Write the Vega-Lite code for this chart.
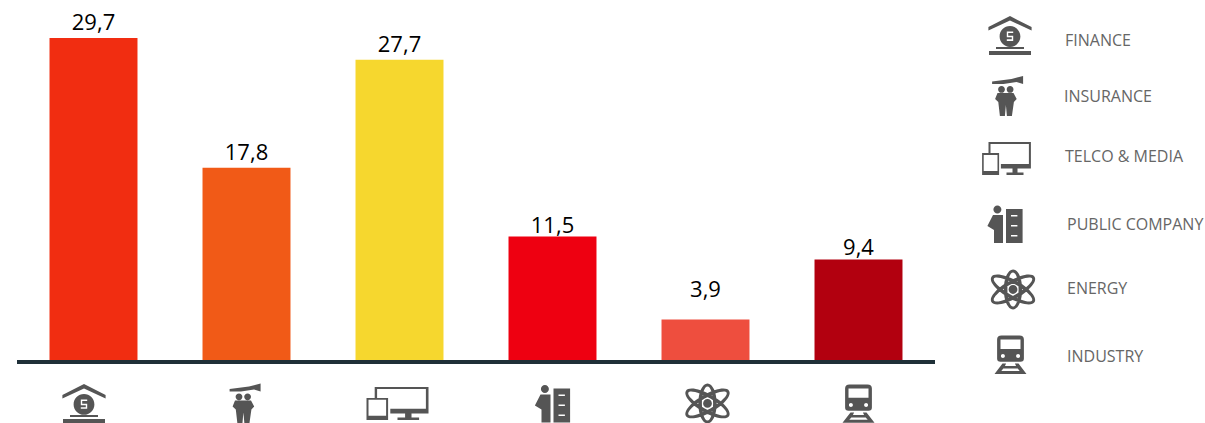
{
"$schema":"https://vega.github.io/schema/vega-lite/v6.json",
"padding":{"left":15,"top":0,"right":0,"bottom":0},
"background":"white",
"config":{"view":{"stroke":null}},
"spacing":0,
"resolve":{"scale":{"shape":"independent"}},
"data":{"values":[
{"order":1,"sector":"FINANCE","value":29.7,"label":"29,7"},
{"order":2,"sector":"INSURANCE","value":17.8,"label":"17,8"},
{"order":3,"sector":"TELCO & MEDIA","value":27.7,"label":"27,7"},
{"order":4,"sector":"PUBLIC COMPANY","value":11.5,"label":"11,5"},
{"order":5,"sector":"ENERGY","value":3.9,"label":"3,9"},
{"order":6,"sector":"INDUSTRY","value":9.4,"label":"9,4"}
]},
"hconcat":[
{"width":918,"height":423,
"encoding":{"x":{"field":"sector","type":"nominal","axis":null,"scale":{"domain":["FINANCE","INSURANCE","TELCO & MEDIA","PUBLIC COMPANY","ENERGY","INDUSTRY"],"paddingInner":0.425,"paddingOuter":0.2125}},
"y":{"field":"value","type":"quantitative","axis":null,"scale":{"domain":[-5.59,33.18],"nice":false,"zero":false}}},
"layer":[
{"mark":{"type":"bar"},"encoding":{"color":{"field":"sector","type":"nominal","legend":null,"scale":{"domain":["FINANCE","INSURANCE","TELCO & MEDIA","PUBLIC COMPANY","ENERGY","INDUSTRY"],"range":["#F12D11","#F15A17","#F6D72E","#EE0011","#EE4E3E","#B2000F"]}}}},
{"mark":{"type":"rule","color":"#1F3038","strokeWidth":4},"encoding":{"x":{"value":0},"x2":{"value":918},"y":{"datum":0}}},
{"transform":[{"filter":{"field":"sector","oneOf":["FINANCE","INSURANCE","TELCO & MEDIA"]}}],"mark":{"type":"text","font":"Open Sans","fontSize":22,"color":"#000000","dy":-15,"baseline":"middle"},"encoding":{"text":{"field":"label"}}},
{"transform":[{"filter":{"field":"sector","oneOf":["PUBLIC COMPANY","INDUSTRY"]}}],"mark":{"type":"text","font":"Open Sans","fontSize":22,"color":"#000000","dy":-11,"baseline":"middle"},"encoding":{"text":{"field":"label"}}},
{"transform":[{"filter":{"field":"sector","equal":"ENERGY"}}],"mark":{"type":"text","font":"Open Sans","fontSize":22,"color":"#000000","dy":-29,"baseline":"middle"},"encoding":{"text":{"field":"label"}}},
{"mark":{"type":"point","filled":true,"size":1600,"color":"#555555","opacity":1,"strokeWidth":0},
"encoding":{"x":{"field":"order","type":"quantitative","axis":null,"scale":{"domain":[1,2,3,4,5,6],"range":[67,228,380.5,535.5,690.5,841.5]}},
"y":{"datum":-3.8},
"shape":{"field":"sector","type":"nominal","legend":null,"scale":{"domain":["FINANCE","INSURANCE","TELCO & MEDIA","PUBLIC COMPANY","ENERGY","INDUSTRY"],"range":[
"M -1.08 -0.42 L 0 -0.97 L 1.08 -0.42 L 1.08 -0.25 L 0 -0.75 L -1.08 -0.25 Z M -0.52 0.05 A 0.52 0.52 0 1 1 0.52 0.05 A 0.52 0.52 0 1 1 -0.52 0.05 Z M 0.16 -0.2 L -0.16 -0.2 L -0.16 0.09 L 0.09 0.09 L 0.09 0.19 L -0.16 0.19 L -0.16 0.27 L 0.16 0.27 L 0.16 0.01 L -0.09 0.01 L -0.09 -0.12 L 0.16 -0.12 Z M -0.7 0.58 L 0.7 0.58 L 0.7 0.68 L -0.7 0.68 Z M -1.05 0.78 L 1.05 0.78 L 1.05 0.98 L -1.05 0.98 Z",
"M -0.77 -0.72 L 0.2 -0.85 L 0.78 -1 L 0.78 -0.6 L 0.45 -0.7 L -0.2 -0.6 L -0.77 -0.6 Z M -0.47 -0.33 A 0.17 0.17 0 1 1 -0.13 -0.33 A 0.17 0.17 0 1 1 -0.47 -0.33 Z M -0.04 -0.33 A 0.17 0.17 0 1 1 0.3 -0.33 A 0.17 0.17 0 1 1 -0.04 -0.33 Z M -0.5 -0.15 L 0.3 -0.15 L 0.46 0.15 L 0.32 0.3 L 0.22 1 L -0.03 1 L -0.08 0.45 L -0.13 1 L -0.38 1 L -0.46 0.3 L -0.62 0.15 Z",
"M -1.14 -0.82 L 1.55 -0.82 L 1.55 0.5 L -0.36 0.5 L -0.36 0.27 L 1.42 0.27 L 1.42 -0.72 L -1.02 -0.72 L -1.02 -0.27 L -1.14 -0.27 Z M 0.38 0.5 L 0.7 0.5 L 0.7 0.7 L 1.08 0.7 L 1.08 0.83 L 0 0.83 L 0 0.7 L 0.38 0.7 Z M -1.55 -0.27 L -0.47 -0.27 L -0.47 0.83 L -1.55 0.83 Z M -1.45 -0.18 L -1.45 0.62 L -0.57 0.62 L -0.57 -0.18 Z",
"M 0.05 -0.75 L 0.88 -0.75 L 0.88 0.95 L 0.05 0.95 Z M 0.3 -0.45 L 0.3 -0.37 L 0.62 -0.37 L 0.62 -0.45 Z M 0.3 0.05 L 0.3 0.13 L 0.62 0.13 L 0.62 0.05 Z M 0.3 0.55 L 0.3 0.63 L 0.62 0.63 L 0.62 0.55 Z M -0.58 -0.72 A 0.2 0.2 0 1 1 -0.18 -0.72 A 0.2 0.2 0 1 1 -0.58 -0.72 Z M -0.6 -0.45 L -0.1 -0.45 L -0.1 0.95 L -0.55 0.95 L -0.55 0.3 L -0.88 0.1 Z",
"M 0 -1 A 1 0.46 90 1 1 0 1 A 1 0.46 90 1 1 0 -1 Z M 0 -0.85 A 0.85 0.28 90 1 0 0 0.85 A 0.85 0.28 90 1 0 0 -0.85 Z M -1.0825 -0.625 A 1.25 0.46 30 1 1 1.0825 0.625 A 1.25 0.46 30 1 1 -1.0825 -0.625 Z M -0.9526 -0.55 A 1.1 0.28 30 1 0 0.9526 0.55 A 1.1 0.28 30 1 0 -0.9526 -0.55 Z M -1.0825 0.625 A 1.25 0.46 -30 1 1 1.0825 -0.625 A 1.25 0.46 -30 1 1 -1.0825 0.625 Z M -0.9526 0.55 A 1.1 0.28 -30 1 0 0.9526 -0.55 A 1.1 0.28 -30 1 0 -0.9526 0.55 Z M -0.22 0 A 0.22 0.22 0 1 1 0.22 0 A 0.22 0.22 0 1 1 -0.22 0 Z",
"M -0.67 -0.75 Q -0.67 -0.95 -0.45 -0.95 L 0.45 -0.95 Q 0.67 -0.95 0.67 -0.75 L 0.67 0.2 Q 0.67 0.36 0.5 0.36 L -0.5 0.36 Q -0.67 0.36 -0.67 0.2 Z M -0.5 -0.75 L -0.5 -0.28 L 0.5 -0.28 L 0.5 -0.75 Z M -0.48 0.08 A 0.1 0.1 0 1 0 -0.28 0.08 A 0.1 0.1 0 1 0 -0.48 0.08 Z M 0.28 0.08 A 0.1 0.1 0 1 0 0.48 0.08 A 0.1 0.1 0 1 0 0.28 0.08 Z M -0.4 0.45 L -0.22 0.45 L -0.28 0.58 L 0.28 0.58 L 0.22 0.45 L 0.4 0.45 L 0.8 0.97 L -0.8 0.97 Z M -0.36 0.7 L -0.46 0.82 L 0.46 0.82 L 0.36 0.7 Z"
]}}}}
],
"resolve":{"scale":{"x":"independent"}}},
{"width":270,"height":423,
"layer":[
{"mark":{"type":"point","filled":true,"size":1600,"color":"#555555","opacity":1,"strokeWidth":0},
"encoding":{"x":{"field":"order","type":"quantitative","axis":null,"scale":{"domain":[1,2,3,4,5,6],"range":[73,70.5,69.5,68,76,73.5]}},
"y":{"field":"order","type":"quantitative","axis":null,"scale":{"domain":[1,2,3,4,5,6],"range":[35.5,96,158.5,224,289.5,354.5]}},
"shape":{"field":"sector","type":"nominal","legend":null,"scale":{"domain":["FINANCE","INSURANCE","TELCO & MEDIA","PUBLIC COMPANY","ENERGY","INDUSTRY"],"range":[
"M -1.08 -0.42 L 0 -0.97 L 1.08 -0.42 L 1.08 -0.25 L 0 -0.75 L -1.08 -0.25 Z M -0.52 0.05 A 0.52 0.52 0 1 1 0.52 0.05 A 0.52 0.52 0 1 1 -0.52 0.05 Z M 0.16 -0.2 L -0.16 -0.2 L -0.16 0.09 L 0.09 0.09 L 0.09 0.19 L -0.16 0.19 L -0.16 0.27 L 0.16 0.27 L 0.16 0.01 L -0.09 0.01 L -0.09 -0.12 L 0.16 -0.12 Z M -0.7 0.58 L 0.7 0.58 L 0.7 0.68 L -0.7 0.68 Z M -1.05 0.78 L 1.05 0.78 L 1.05 0.98 L -1.05 0.98 Z",
"M -0.77 -0.72 L 0.2 -0.85 L 0.78 -1 L 0.78 -0.6 L 0.45 -0.7 L -0.2 -0.6 L -0.77 -0.6 Z M -0.47 -0.33 A 0.17 0.17 0 1 1 -0.13 -0.33 A 0.17 0.17 0 1 1 -0.47 -0.33 Z M -0.04 -0.33 A 0.17 0.17 0 1 1 0.3 -0.33 A 0.17 0.17 0 1 1 -0.04 -0.33 Z M -0.5 -0.15 L 0.3 -0.15 L 0.46 0.15 L 0.32 0.3 L 0.22 1 L -0.03 1 L -0.08 0.45 L -0.13 1 L -0.38 1 L -0.46 0.3 L -0.62 0.15 Z",
"M -0.9 -0.82 L 1.22 -0.82 L 1.22 0.5 L -0.28 0.5 L -0.28 0.27 L 1.12 0.27 L 1.12 -0.72 L -0.8 -0.72 L -0.8 -0.27 L -0.9 -0.27 Z M 0.3 0.5 L 0.55 0.5 L 0.55 0.7 L 0.85 0.7 L 0.85 0.83 L 0 0.83 L 0 0.7 L 0.3 0.7 Z M -1.22 -0.27 L -0.37 -0.27 L -0.37 0.83 L -1.22 0.83 Z M -1.14 -0.18 L -1.14 0.62 L -0.45 0.62 L -0.45 -0.18 Z",
"M 0.05 -0.75 L 0.88 -0.75 L 0.88 0.95 L 0.05 0.95 Z M 0.3 -0.45 L 0.3 -0.37 L 0.62 -0.37 L 0.62 -0.45 Z M 0.3 0.05 L 0.3 0.13 L 0.62 0.13 L 0.62 0.05 Z M 0.3 0.55 L 0.3 0.63 L 0.62 0.63 L 0.62 0.55 Z M -0.58 -0.72 A 0.2 0.2 0 1 1 -0.18 -0.72 A 0.2 0.2 0 1 1 -0.58 -0.72 Z M -0.6 -0.45 L -0.1 -0.45 L -0.1 0.95 L -0.55 0.95 L -0.55 0.3 L -0.88 0.1 Z",
"M 0 -1 A 1 0.46 90 1 1 0 1 A 1 0.46 90 1 1 0 -1 Z M 0 -0.85 A 0.85 0.28 90 1 0 0 0.85 A 0.85 0.28 90 1 0 0 -0.85 Z M -1.0825 -0.625 A 1.25 0.46 30 1 1 1.0825 0.625 A 1.25 0.46 30 1 1 -1.0825 -0.625 Z M -0.9526 -0.55 A 1.1 0.28 30 1 0 0.9526 0.55 A 1.1 0.28 30 1 0 -0.9526 -0.55 Z M -1.0825 0.625 A 1.25 0.46 -30 1 1 1.0825 -0.625 A 1.25 0.46 -30 1 1 -1.0825 0.625 Z M -0.9526 0.55 A 1.1 0.28 -30 1 0 0.9526 -0.55 A 1.1 0.28 -30 1 0 -0.9526 0.55 Z M -0.22 0 A 0.22 0.22 0 1 1 0.22 0 A 0.22 0.22 0 1 1 -0.22 0 Z",
"M -0.67 -0.75 Q -0.67 -0.95 -0.45 -0.95 L 0.45 -0.95 Q 0.67 -0.95 0.67 -0.75 L 0.67 0.2 Q 0.67 0.36 0.5 0.36 L -0.5 0.36 Q -0.67 0.36 -0.67 0.2 Z M -0.5 -0.75 L -0.5 -0.28 L 0.5 -0.28 L 0.5 -0.75 Z M -0.48 0.08 A 0.1 0.1 0 1 0 -0.28 0.08 A 0.1 0.1 0 1 0 -0.48 0.08 Z M 0.28 0.08 A 0.1 0.1 0 1 0 0.48 0.08 A 0.1 0.1 0 1 0 0.28 0.08 Z M -0.4 0.45 L -0.22 0.45 L -0.28 0.58 L 0.28 0.58 L 0.22 0.45 L 0.4 0.45 L 0.8 0.97 L -0.8 0.97 Z M -0.36 0.7 L -0.46 0.82 L 0.46 0.82 L 0.36 0.7 Z"
]}}}},
{"mark":{"type":"text","font":"Open Sans","fontSize":16,"color":"#666666","align":"left","baseline":"middle"},
"encoding":{"text":{"field":"sector"},
"x":{"field":"order","type":"quantitative","axis":null,"scale":{"domain":[1,2,3,4,5,6],"range":[128,127,128,130,130,130]}},
"y":{"field":"order","type":"quantitative","axis":null,"scale":{"domain":[1,2,3,4,5,6],"range":[41,97,157,225,289,357]}}}}
],
"resolve":{"scale":{"x":"independent","y":"independent"}}}
]
}
